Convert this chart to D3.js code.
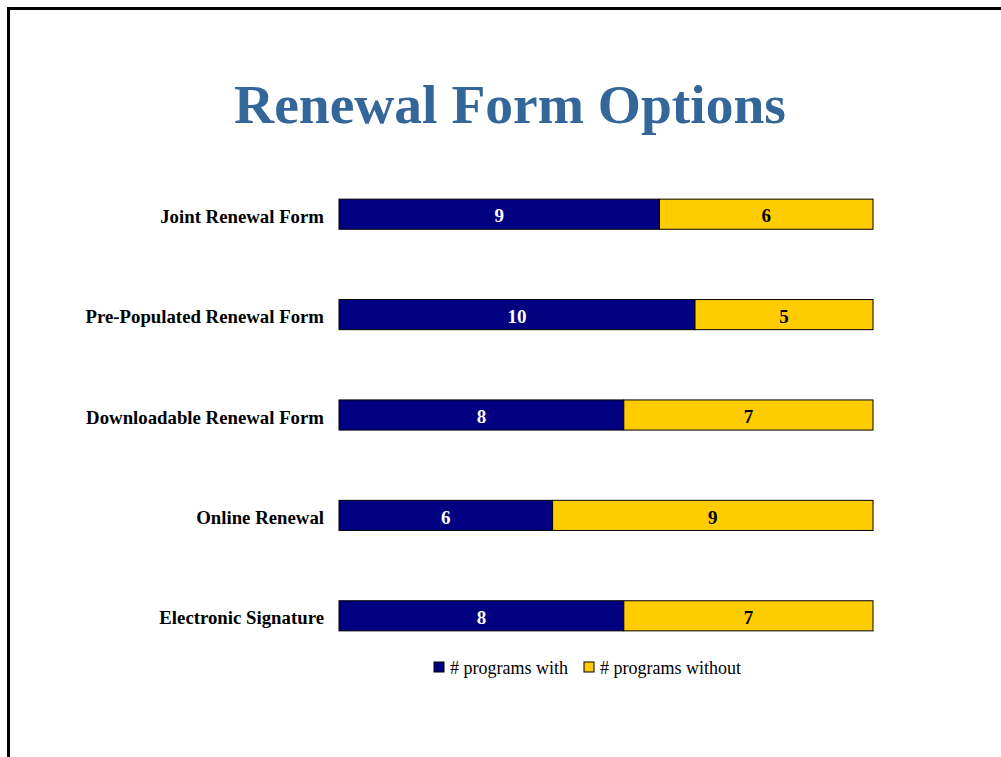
<!DOCTYPE html>
<html>
<head>
<meta charset="UTF-8">
<script src="https://d3js.org/d3.v7.min.js"></script>
<style>
  body { margin: 0; background: #fff; }
  svg { font-family: "Liberation Serif", "Times New Roman", serif; }
</style>
</head>
<body>
<svg width="1001" height="757"></svg>
<script>
// chart data
const categories = ["Joint Renewal Form", "Pre-Populated Renewal Form", "Downloadable Renewal Form", "Online Renewal", "Electronic Signature"];
const withValues = [9, 10, 8, 6, 8];
const withoutValues = [6, 5, 7, 9, 7];
const seriesNames = ["# programs with", "# programs without"];
const colors = ["#000080", "#FFCC00"];

const svg = d3.select("svg");

// slide frame
svg.append("path")
  .attr("d", "M8.5,757 L8.5,8.5 L1001,8.5")
  .attr("fill", "none")
  .attr("stroke", "#000")
  .attr("stroke-width", 3);

// title
svg.append("text")
  .attr("x", 510)
  .attr("y", 123)
  .attr("text-anchor", "middle")
  .attr("font-size", "55.5px")
  .attr("font-weight", "bold")
  .attr("fill", "#336699")
  .text("Renewal Form Options");

const x = d3.scaleLinear().domain([0, 15]).range([339, 873]);
const y = d3.scaleBand().domain(categories).range([164, 666]).paddingInner(0.7).paddingOuter(0.35);

const rows = categories.map((c, i) => ({ cat: c, vals: [withValues[i], withoutValues[i]] }));

const g = svg.append("g");
rows.forEach(r => {
  let start = 0;
  r.vals.forEach((v, k) => {
    g.append("rect")
      .attr("x", x(start))
      .attr("y", y(r.cat))
      .attr("width", x(start + v) - x(start))
      .attr("height", y.bandwidth())
      .attr("fill", colors[k])
      .attr("stroke", "#000")
      .attr("stroke-width", 1);
    g.append("text")
      .attr("x", (x(start) + x(start + v)) / 2)
      .attr("y", y(r.cat) + y.bandwidth() / 2 + 1.5)
      .attr("dy", "0.35em")
      .attr("text-anchor", "middle")
      .attr("font-size", "19px")
      .attr("font-weight", "bold")
      .attr("fill", k === 0 ? "#fff" : "#000")
      .text(v);
    start += v;
  });
  // category label
  g.append("text")
    .attr("x", 324)
    .attr("y", y(r.cat) + y.bandwidth() / 2 + 2)
    .attr("dy", "0.35em")
    .attr("text-anchor", "end")
    .attr("font-size", "18.8px")
    .attr("font-weight", "bold")
    .attr("fill", "#000")
    .text(r.cat);
});

// legend
const legend = svg.append("g").attr("font-size", "18px");
const legendX = [434, 584];
seriesNames.forEach((s, k) => {
  legend.append("rect")
    .attr("x", legendX[k])
    .attr("y", 662)
    .attr("width", 10)
    .attr("height", 10)
    .attr("fill", colors[k])
    .attr("stroke", "#000");
  legend.append("text")
    .attr("x", legendX[k] + 16)
    .attr("y", 668)
    .attr("dy", "0.35em")
    .text(s);
});
</script>
</body>
</html>
